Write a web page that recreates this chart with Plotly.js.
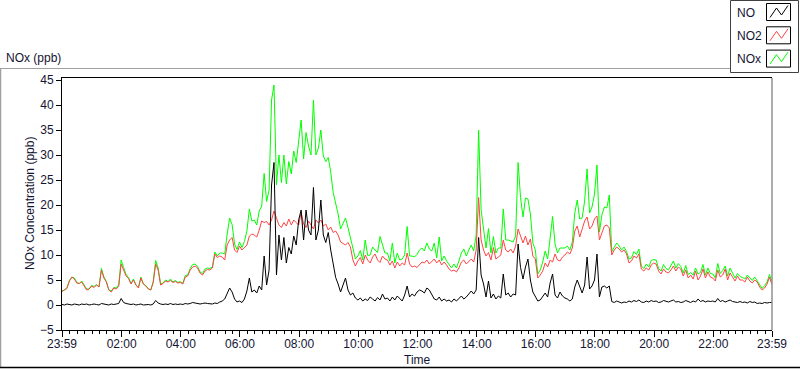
<!DOCTYPE html>
<html>
<head>
<meta charset="utf-8">
<script src="https://cdn.plot.ly/plotly-3.0.1.min.js"></script>
<style>html,body{margin:0;padding:0;background:#fff;}#chart{width:800px;height:369px;}</style>
</head>
<body>
<div id="chart"></div>
<script>
// Series names
const seriesNames = ["NO", "NO2", "NOx"];
// Time tick labels (minutes after 23:59 of previous day)
const tickMinutes = [0, 121, 241, 361, 481, 601, 721, 841, 961, 1081, 1201, 1321, 1440];
const tickLabels = ["23:59", "02:00", "04:00", "06:00", "08:00", "10:00", "12:00", "14:00", "16:00", "18:00", "20:00", "22:00", "23:59"];
const stepMinutes = 5;

// NO (ppb), 5-minute readings from 23:59
const NO = [
  0.1, 0.0, 0.2, 0.1, 0.0, 0.2, 0.1, 0.0, 0.2, 0.1, 0.2, 0.0,
  0.1, 0.2, 0.1, 0.0, 0.3, 0.2, 0.1, 0.0, 0.2, 0.1, 0.2, 0.3,
  1.3, 0.5, 0.3, 0.2, 0.1, 0.2, 0.0, 0.1, 0.2, 0.0, 0.1, 0.1,
  0.0, 0.2, 0.9, 0.4, 0.2, 0.1, 0.2, 0.1, 0.3, 0.1, 0.2, 0.1,
  0.2, 0.1, 0.3, 0.2, 0.3, 0.5, 0.4, 0.3, 0.2, 0.3, 0.4, 0.3,
  0.3, 0.2, 0.4, 0.3, 0.6, 0.8, 1.2, 2.2, 3.4, 2.6, 1.2, 0.6,
  0.8, 0.5, 1.2, 2.8, 5.4, 2.6, 3.0, 2.4, 3.8, 3.0, 9.8, 4.0,
  7.0, 24.0, 28.5, 6.0, 14.0, 9.0, 13.5, 8.4, 11.5, 10.2, 13.8, 12.0,
  17.0, 19.0, 13.0, 19.0, 15.0, 14.0, 23.5, 13.0, 15.0, 21.0, 14.0, 12.5,
  14.5, 11.0, 8.0, 5.5, 4.2, 2.6, 4.0, 5.4, 3.0, 2.0, 2.4, 1.4,
  1.0, 1.4, 0.8, 1.2, 0.9, 1.6, 1.2, 0.8, 1.5, 1.0, 2.2, 1.2,
  1.4, 0.8, 1.6, 1.0, 1.8, 1.2, 0.8, 2.0, 3.8, 1.6, 2.2, 1.8,
  2.6, 3.0, 2.8, 2.4, 3.4, 3.0, 2.0, 1.2, 1.0, 1.6, 0.8, 1.2,
  0.8, 1.0, 0.6, 1.2, 0.8, 1.4, 1.8, 1.2, 1.6, 2.2, 2.8, 2.2,
  3.0, 13.5, 6.0, 4.2, 1.6, 4.8, 1.4, 2.2, 1.2, 1.8, 1.4, 6.2,
  2.0, 2.4, 1.6, 2.2, 2.0, 12.2, 7.5, 5.2, 7.6, 9.2, 5.0, 2.6,
  1.8, 0.8, 1.0, 1.8, 2.4, 1.6, 4.4, 6.2, 2.0, 1.4, 2.6, 1.8,
  1.4, 1.2, 0.8, 1.2, 3.6, 5.0, 3.6, 2.4, 4.0, 9.6, 3.2, 3.8,
  5.0, 10.2, 1.6, 3.6, 3.8, 3.4, 3.8, 0.7, 0.5, 0.8, 0.6, 0.4,
  0.6, 0.5, 0.8, 0.6, 0.9, 0.7, 1.0, 0.6, 0.5, 0.8, 0.6, 0.9,
  0.7, 0.8, 0.5, 0.6, 0.9, 0.7, 0.6, 0.8, 1.0, 0.6, 0.7, 0.5,
  0.6, 0.9, 0.7, 0.5, 0.8, 0.6, 1.2, 0.7, 0.9, 0.6, 0.8, 0.7,
  0.8, 0.6, 1.3, 0.7, 0.9, 0.6, 0.8, 1.0, 0.7, 0.6, 0.5, 0.7,
  0.5, 0.6, 0.4, 0.7, 0.5, 0.6, 0.3, 0.4, 0.3, 0.5, 0.4, 0.5,
  0.5
];

// NO2 (ppb)
const NO2 = [
  2.7, 3.0, 3.3, 4.8, 5.6, 5.2, 4.4, 4.3, 4.6, 3.8, 3.0, 3.2,
  3.8, 3.5, 4.0, 3.6, 7.0, 5.4, 4.6, 3.0, 2.6, 3.4, 3.2, 3.7,
  8.2, 7.0, 5.8, 5.3, 4.2, 5.0, 4.0, 3.4, 5.4, 4.2, 3.8, 3.2,
  3.0, 4.5, 8.2, 7.0, 4.0, 4.3, 4.8, 4.6, 4.9, 4.5, 4.7, 4.4,
  4.5, 4.2, 5.6, 5.8, 7.0, 7.6, 7.8, 7.4, 6.4, 6.0, 6.8, 7.1,
  7.0, 7.4, 10.2, 9.5, 9.8, 9.6, 9.0, 12.0, 13.0, 13.5, 11.0, 10.5,
  11.8, 11.0, 11.5, 12.0, 13.8, 14.2, 14.0, 13.6, 15.0, 16.8, 16.5, 16.7,
  16.0, 17.0, 18.8, 17.5, 16.0, 15.5, 16.5, 15.8, 17.2, 16.0, 17.0, 16.5,
  16.0, 18.5, 16.2, 15.5, 16.8, 16.0, 15.2, 17.0, 16.4, 17.0, 15.8, 16.2,
  15.0, 15.6, 14.5, 14.8, 14.0, 12.6, 12.3, 12.0, 12.5, 11.6, 9.0, 7.8,
  8.8, 9.5, 8.2, 10.0, 9.0, 8.4, 9.6, 10.2, 9.0, 8.5, 9.8, 9.2,
  9.0, 8.0, 8.8, 7.4, 8.6, 7.8, 8.4, 8.0, 10.4, 8.2, 7.6, 7.8,
  7.5, 8.0, 8.6, 8.4, 9.0, 8.2, 8.8, 9.2, 8.4, 9.0, 8.0, 8.6,
  8.0, 7.2, 6.8, 7.0, 6.6, 7.4, 8.6, 9.0, 8.2, 8.8, 9.2, 8.6,
  11.0, 21.5, 13.0, 11.0, 9.8, 10.5, 9.0, 11.5, 9.2, 9.6, 10.0, 13.0,
  11.0, 10.6, 11.2, 10.4, 11.8, 15.2, 14.0, 12.4, 13.8, 12.0, 13.2, 9.8,
  9.2, 5.4, 6.0, 6.8, 8.4, 7.6, 9.0, 8.6, 10.2, 9.0, 8.8, 9.6,
  10.0, 10.6, 10.2, 11.4, 14.8, 15.8, 13.6, 15.0, 16.8, 17.6, 15.2, 15.8,
  17.2, 17.8, 13.0, 14.4, 15.8, 16.0, 15.4, 10.0, 11.0, 11.6, 11.2, 10.6,
  11.0, 10.2, 8.4, 8.8, 9.8, 9.4, 10.2, 7.2, 6.8, 7.4, 7.0, 8.0,
  8.4, 8.2, 6.8, 6.2, 7.2, 6.6, 6.4, 7.0, 7.8, 6.8, 7.6, 7.2,
  5.8, 7.0, 5.4, 6.0, 5.2, 6.8, 5.0, 5.8, 7.2, 5.4, 6.6, 5.6,
  5.4, 4.8, 7.0, 5.6, 6.0, 7.2, 5.0, 6.4, 5.6, 4.8, 5.8, 5.0,
  5.0, 4.6, 5.6, 4.8, 4.4, 5.0, 4.6, 3.6, 3.0, 3.4, 4.2, 5.6,
  4.0
];

// NOx (ppb)
const NOx = [
  2.8, 3.0, 3.5, 4.9, 5.6, 5.4, 4.5, 4.3, 4.8, 3.9, 3.2, 3.2,
  3.9, 3.7, 4.1, 3.6, 7.3, 5.6, 4.7, 3.0, 2.8, 3.5, 3.4, 4.0,
  9.0, 7.5, 6.1, 5.5, 4.3, 5.2, 4.0, 3.5, 5.6, 4.2, 3.9, 3.3,
  3.0, 4.7, 8.9, 7.4, 4.2, 4.4, 5.0, 4.7, 5.2, 4.6, 4.9, 4.5,
  4.7, 4.3, 5.9, 6.0, 7.3, 8.1, 8.2, 7.7, 6.6, 6.3, 7.2, 7.4,
  7.3, 7.6, 10.6, 9.8, 10.4, 10.4, 10.2, 14.2, 17.4, 16.1, 12.2, 11.1,
  12.6, 11.5, 12.7, 14.8, 19.2, 16.8, 17.0, 16.0, 18.8, 19.8, 26.3, 20.7,
  23.0, 41.0, 44.0, 24.0, 30.0, 24.5, 30.0, 24.2, 28.7, 26.2, 30.8, 28.5,
  33.0, 37.0, 29.2, 34.5, 31.8, 30.0, 41.0, 30.0, 31.4, 35.0, 29.8, 28.7,
  29.5, 26.6, 22.5, 20.3, 18.2, 15.2, 16.3, 17.4, 15.5, 13.6, 11.4, 9.2,
  9.8, 10.9, 9.0, 13.0, 9.9, 10.0, 11.6, 11.0, 10.5, 13.7, 12.0, 10.4,
  10.4, 8.8, 12.4, 8.4, 10.4, 9.0, 9.2, 10.0, 15.7, 9.8, 9.8, 9.6,
  10.1, 11.0, 11.4, 10.8, 12.4, 11.2, 10.8, 12.4, 9.4, 13.6, 8.8, 9.8,
  8.8, 8.2, 7.4, 8.2, 7.4, 8.8, 10.4, 11.2, 9.8, 11.0, 12.0, 10.8,
  14.0, 35.0, 19.0, 15.2, 11.4, 15.3, 10.4, 13.7, 10.4, 11.4, 11.4, 19.2,
  13.0, 13.0, 12.8, 12.6, 13.8, 28.5, 21.5, 17.6, 21.4, 21.2, 18.2, 12.4,
  11.0, 6.2, 7.0, 8.6, 10.8, 9.2, 13.4, 17.7, 12.2, 10.4, 11.4, 11.4,
  11.4, 11.8, 11.0, 12.6, 18.4, 21.0, 17.2, 17.4, 20.8, 27.2, 18.4, 19.6,
  22.2, 28.0, 14.6, 18.0, 19.6, 19.4, 22.0, 10.7, 11.5, 12.4, 11.8, 11.0,
  11.6, 10.7, 9.2, 9.4, 10.7, 10.1, 11.2, 7.8, 7.3, 8.2, 7.6, 8.9,
  9.1, 9.0, 7.3, 6.8, 8.1, 7.3, 7.0, 7.8, 8.8, 7.4, 8.3, 7.7,
  6.4, 7.9, 6.1, 6.5, 6.0, 7.4, 6.2, 6.5, 8.1, 6.0, 7.4, 6.3,
  6.2, 5.4, 8.3, 6.3, 6.9, 7.8, 5.8, 7.4, 6.3, 5.4, 6.3, 5.7,
  5.5, 5.2, 6.0, 5.5, 4.9, 5.6, 4.9, 4.0, 3.3, 3.9, 4.6, 6.1,
  4.5
];

const minutes = NO.map((_, i) => i * stepMinutes);
const colors = {NO: "#000000", NO2: "#ff4444", NOx: "#00ff00"};

const traces = [
  {x: minutes, y: NOx, name: "NOx", type: "scatter", mode: "lines", line: {color: colors.NOx, width: 1}},
  {x: minutes, y: NO2, name: "NO2", type: "scatter", mode: "lines", line: {color: colors.NO2, width: 1}},
  {x: minutes, y: NO, name: "NO", type: "scatter", mode: "lines", line: {color: colors.NO, width: 1}}
];

// layout helpers: pixel -> paper
const L = 62, R = 772, T = 78, B = 330;
const X = px => (px - L) / (R - L);
const Y = py => (B - py) / (B - T);
const font = "Liberation Sans, Arial, sans-serif";
const txt = "#141432";

const shapes = [
  // outer frame
  {type: "line", xref: "paper", yref: "paper", x0: X(0), x1: X(730), y0: Y(68.5), y1: Y(68.5), line: {color: "#a0a0a0", width: 1}},
  {type: "line", xref: "paper", yref: "paper", x0: X(0.5), x1: X(0.5), y0: Y(68.5), y1: Y(368), line: {color: "#a0a0a0", width: 1.5}},
  {type: "line", xref: "paper", yref: "paper", x0: X(0), x1: X(800), y0: Y(367.5), y1: Y(367.5), line: {color: "#000000", width: 1.5}},
  // plot right border (gray)
  {type: "line", xref: "paper", yref: "paper", x0: 1, x1: 1, y0: 0, y1: 1, line: {color: "#909090", width: 1.5}},
  // legend box
  {type: "rect", xref: "paper", yref: "paper", x0: X(730.5), x1: X(798.5), y0: Y(0.5), y1: Y(72.5), line: {color: "#404040", width: 1}, fillcolor: "#ffffff"}
];
const annotations = [
  {xref: "paper", yref: "paper", x: X(4), y: Y(58), xanchor: "left", yanchor: "middle", text: "NOx (ppb)", showarrow: false, font: {family: font, size: 12, color: txt}},
  {xref: "paper", yref: "paper", x: X(30), y: 0.5, xanchor: "center", yanchor: "middle", textangle: -90, text: "NOx Concentration (ppb)", showarrow: false, font: {family: font, size: 12, color: txt}},
  {xref: "paper", yref: "paper", x: 0.5, y: Y(360), xanchor: "center", yanchor: "middle", text: "Time", showarrow: false, font: {family: font, size: 12, color: txt}}
];
const legendColors = [colors.NO, colors.NO2, colors.NOx];
seriesNames.forEach((nm, k) => {
  const top = 3.5 + k * 23.3;
  shapes.push({type: "rect", xref: "paper", yref: "paper", x0: X(766.5), x1: X(790.5), y0: Y(top), y1: Y(top + 17), line: {color: "#000000", width: 1}, fillcolor: "#ffffff"});
  const pts = [[770, top + 14], [776.5, top + 4.5], [781.5, top + 11.5], [788, top + 2]];
  const path = "M" + pts.map(p => X(p[0]) + "," + Y(p[1])).join(" L");
  shapes.push({type: "path", xref: "paper", yref: "paper", path: path, line: {color: legendColors[k], width: 1}});
  annotations.push({xref: "paper", yref: "paper", x: X(735), y: Y(top + 9), xanchor: "left", yanchor: "middle", text: nm, showarrow: false, font: {family: font, size: 12, color: txt}});
});

const layout = {
  width: 800, height: 369,
  margin: {l: L, r: 800 - R, t: T, b: 369 - B, pad: 0},
  paper_bgcolor: "#ffffff", plot_bgcolor: "#ffffff",
  showlegend: false,
  font: {family: font, size: 12, color: txt},
  xaxis: {
    range: [0, 1440], tickmode: "array", tickvals: tickMinutes, ticktext: tickLabels,
    showgrid: false, zeroline: false, showline: true, linecolor: "#000000", linewidth: 1, mirror: true,
    ticks: "outside", ticklen: 6, tickcolor: "#000000", tickwidth: 1,
    ticklabelstandoff: -3,
    tickfont: {family: font, size: 12, color: txt},
    minor: {tick0: 1, dtick: 15, ticks: "outside", ticklen: 3, tickcolor: "#000000", showgrid: false}
  },
  yaxis: {
    range: [-5, 45.4], tickmode: "linear", tick0: -5, dtick: 5,
    showgrid: false, zeroline: false, showline: true, linecolor: "#000000", linewidth: 1,
    ticks: "outside", ticklen: 5, tickcolor: "#000000", tickwidth: 1,
    tickfont: {family: font, size: 12, color: txt}
  },
  shapes: shapes,
  annotations: annotations
};

Plotly.newPlot("chart", traces, layout, {staticPlot: true, displayModeBar: false});
</script>
</body>
</html>
